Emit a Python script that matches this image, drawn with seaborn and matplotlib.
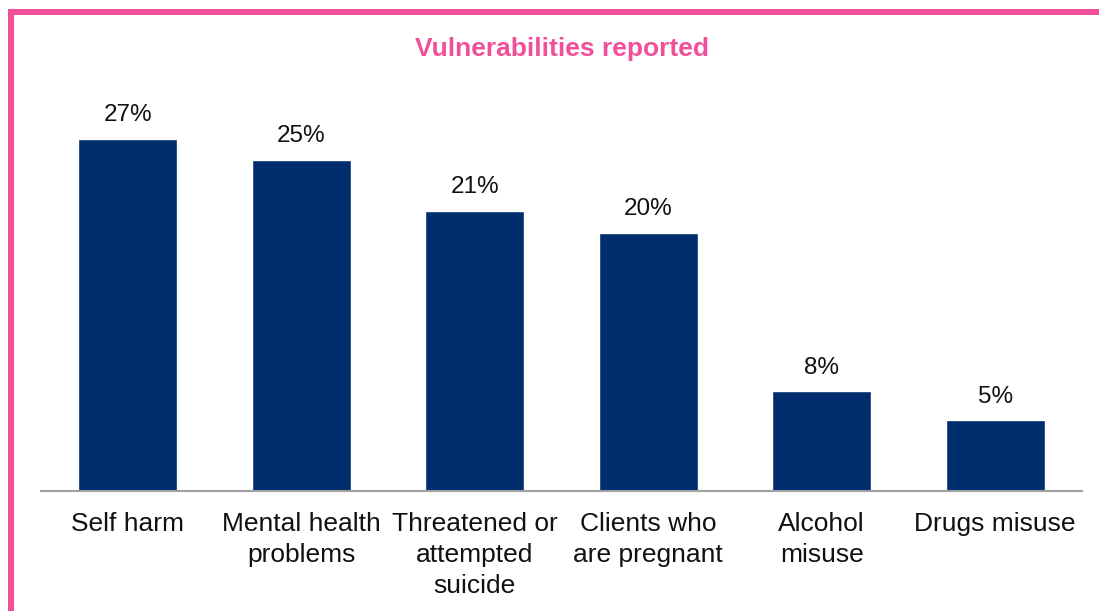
import matplotlib
matplotlib.use("Agg")
import matplotlib.pyplot as plt
import seaborn as sns
import pandas as pd
from matplotlib.patches import Rectangle

categories = ["Self harm", "Mental health\nproblems", "Threatened or\nattempted\nsuicide",
              "Clients who\nare pregnant", "Alcohol\nmisuse", "Drugs misuse"]
values = [26.9, 25.3, 21.4, 19.7, 7.6, 5.4]
labels = ["27%", "25%", "21%", "20%", "8%", "5%"]
title = "Vulnerabilities reported"

NAVY = "#002D6E"
PINK = "#F0509A"

sns.set_theme(style="white")
plt.rcParams['font.family'] = ['Liberation Sans', 'DejaVu Sans']

fig = plt.figure(figsize=(10.99, 6.11), dpi=100)
ax = fig.add_axes([41/1099, 1-491/611, 1041/1099, 393/611])

df = pd.DataFrame({"cat": categories, "val": values})
sns.barplot(data=df, x="cat", y="val", color=NAVY, saturation=1, width=0.57, ax=ax)

ax.set_ylim(0, 30)
ax.set_xlim(-0.5, len(categories) - 0.5)
ax.set_xlabel("")
ax.set_ylabel("")
ax.set_yticks([])
for s in ["top", "right", "left"]:
    ax.spines[s].set_visible(False)
ax.spines["bottom"].set_color("#A0A0A0")
ax.spines["bottom"].set_linewidth(1.5)
ax.tick_params(axis="x", length=0, pad=15, labelsize=19, labelcolor="#111111")
for t in ax.get_xticklabels():
    t.set_linespacing(1.38)

for i, (v, lab) in enumerate(zip(values, labels)):
    ax.annotate(lab, (i, v), xytext=(0, 9), textcoords="offset points",
                ha="center", va="bottom", fontsize=17.5, color="#111111")

fig.text(562/1099, 1-49/611, title, ha="center", va="center", fontsize=19,
         fontweight="bold", color=PINK)

# pink frame: top and left edges
fig.add_artist(Rectangle((8/1099, 1-15/611), 1 - 8/1099, 6/611, transform=fig.transFigure,
                         color=PINK, lw=0))
fig.add_artist(Rectangle((8/1099, 0), 6/1099, 1-9/611, transform=fig.transFigure,
                         color=PINK, lw=0))

fig.savefig("out.png", dpi=100)
